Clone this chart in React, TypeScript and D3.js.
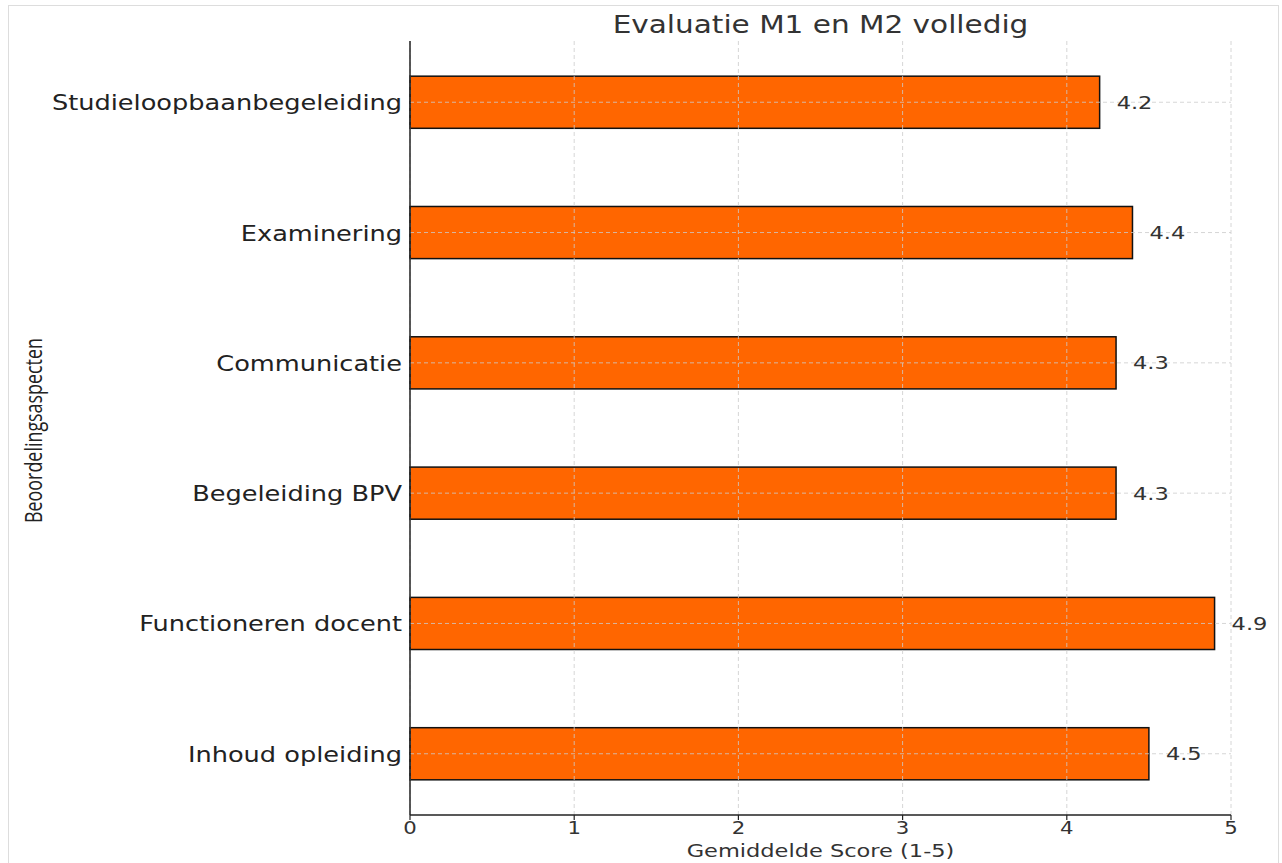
import React from "react";
import * as d3 from "d3";

const categories = [
  "Inhoud opleiding",
  "Functioneren docent",
  "Begeleiding BPV",
  "Communicatie",
  "Examinering",
  "Studieloopbaanbegeleiding",
];
const scores = [4.5, 4.9, 4.3, 4.3, 4.4, 4.2];
const xTicks = [0, 1, 2, 3, 4, 5];
const title = "Evaluatie M1 en M2 volledig";
const xLabel = "Gemiddelde Score (1-5)";
const yLabel = "Beoordelingsaspecten";

const FONT = "'DejaVu Sans', Verdana, sans-serif";
const SX = 1.25;

function T(props: {
  x: number;
  y: number;
  size: number;
  anchor?: string;
  fill?: string;
  sx?: number;
  children: React.ReactNode;
}) {
  const { x, y, size, anchor = "start", fill = "#333", sx = SX, children } = props;
  return (
    <text
      transform={`translate(${x},${y}) scale(${sx},1)`}
      textAnchor={anchor}
      fontFamily={FONT}
      fontSize={size}
      fill={fill}
    >
      {children}
    </text>
  );
}

export default function App() {
  const W = 1282;
  const H = 863;
  const left = 410;
  const right = 1231;
  const top = 41;
  const bottom = 815;
  const x = d3.scaleLinear().domain([0, 5]).range([left, right]);
  const y = d3.scaleLinear().domain([-0.47, categories.length - 1 + 0.47]).range([bottom, top]);
  const barH = y(0) - y(0.4);
  const gridColor = "#cccccc";
  return (
    <svg
      width={W}
      height={H}
      style={{ position: "absolute", left: 0, top: 0, background: "#fff" }}
    >
      <rect x={8.5} y={5.5} width={1270} height={870} fill="none" stroke="#dddddd" strokeWidth={1} />
      <T x={(left + right) / 2} y={33} size={24} anchor="middle" sx={1.23}>
        {title}
      </T>
      {categories.map((c, i) => (
        <rect
          key={c}
          x={x(0)}
          y={y(i) - barH / 2}
          width={x(scores[i]) - x(0)}
          height={barH}
          fill="#ff6600"
          stroke="#111"
          strokeWidth={1.5}
        />
      ))}
      {xTicks.map((t) => (
        <line
          key={"gx" + t}
          x1={x(t)}
          x2={x(t)}
          y1={top}
          y2={bottom}
          stroke={gridColor}
          strokeWidth={0.8}
          strokeDasharray="4,3"
        />
      ))}
      {categories.map((c, i) => (
        <line
          key={"gy" + c}
          x1={left}
          x2={right}
          y1={y(i)}
          y2={y(i)}
          stroke={gridColor}
          strokeWidth={0.8}
          strokeDasharray="4,3"
        />
      ))}
      {categories.map((c, i) => (
        <T key={"v" + c} x={x(scores[i]) + 17} y={y(i) + 6.5} size={18}>
          {scores[i].toFixed(1)}
        </T>
      ))}
      <line x1={left} x2={left} y1={top} y2={bottom} stroke="#222" strokeWidth={1.5} />
      <line x1={left} x2={right} y1={bottom} y2={bottom} stroke="#222" strokeWidth={1.5} />
      {xTicks.map((t) => (
        <g key={"xt" + t}>
          <line x1={x(t)} x2={x(t)} y1={bottom} y2={bottom + 5} stroke="#222" strokeWidth={1.2} />
          <T x={x(t)} y={833.5} size={17} anchor="middle">
            {t}
          </T>
        </g>
      ))}
      {categories.map((c, i) => (
        <T key={"yt" + c} x={left - 8} y={y(i) + 8} size={20.5} anchor="end" fill="#222">
          {c}
        </T>
      ))}
      <T x={(left + right) / 2} y={857} size={18} anchor="middle">
        {xLabel}
      </T>
      <text
        transform={`translate(42, 430.5) scale(1.28,1) rotate(-90)`}
        textAnchor="middle"
        fontFamily="'Open Sans', sans-serif"
        fontSize={18}
        textLength={185}
        lengthAdjust="spacingAndGlyphs"
        fill="#222"
      >
        {yLabel}
      </text>
    </svg>
  );
}
